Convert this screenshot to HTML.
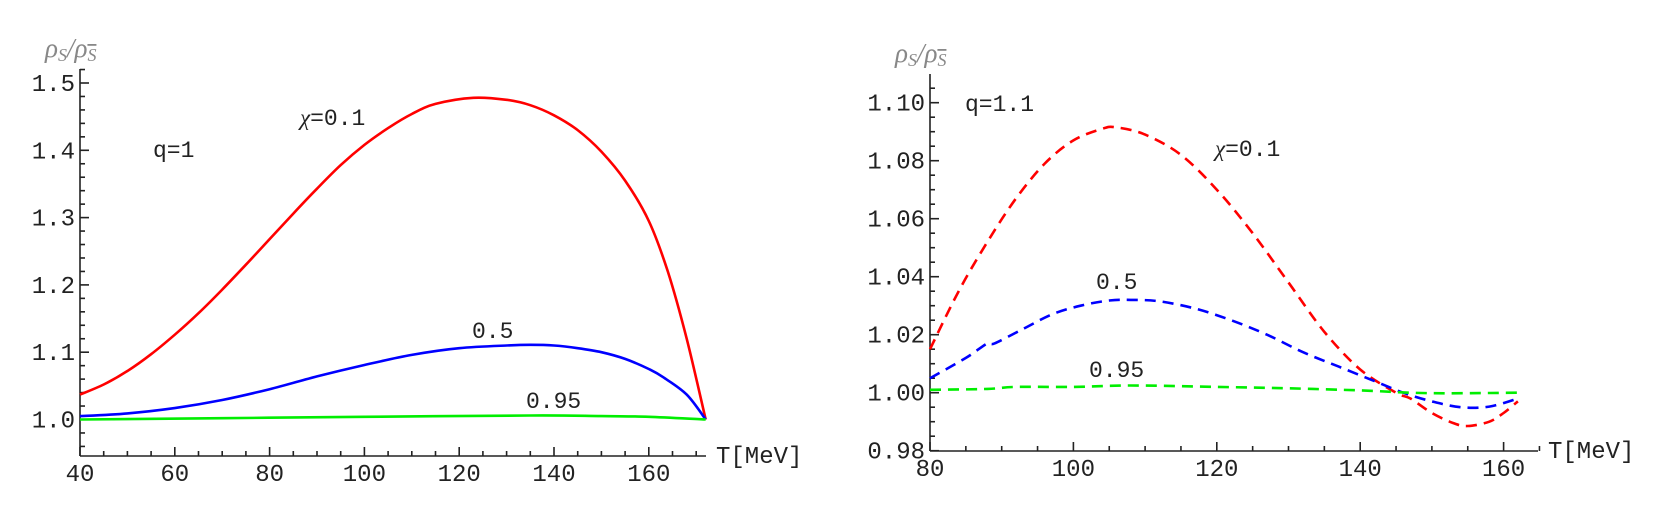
<!DOCTYPE html>
<html><head><meta charset="utf-8"><style>
html,body{margin:0;padding:0;background:#fff;}
svg{display:block;}
text{font-family:"Liberation Mono",monospace;fill:#222;}
</style></head><body>
<svg id="s" width="1674" height="520" xmlns="http://www.w3.org/2000/svg">
<g stroke="#222" stroke-width="1.6" fill="none" id="axes"></g>
<g id="curves" fill="none"></g>
<g font-size="24" id="labels">
<text x="45" y="57" font-size="27" style="fill:#888;font-family:'Liberation Serif',serif;font-style:italic">ρ<tspan font-size="18" dy="4">S</tspan><tspan dy="-4">/ρ</tspan><tspan font-size="18" dy="4" text-decoration="overline">S</tspan></text>
<text x="895" y="62" font-size="27" style="fill:#888;font-family:'Liberation Serif',serif;font-style:italic">ρ<tspan font-size="18" dy="4">S</tspan><tspan dy="-4">/ρ</tspan><tspan font-size="18" dy="4" text-decoration="overline">S</tspan></text>
<text x="300" y="125" font-size="23"><tspan style="font-family:'Liberation Serif',serif;font-style:italic">χ</tspan>=0.1</text>
<text x="153" y="157" font-size="23">q=1</text>
<text x="472" y="338" font-size="23">0.5</text>
<text x="526" y="408" font-size="23">0.95</text>
<text x="716" y="463" font-size="24">T[MeV]</text>
<text x="965" y="111" font-size="23">q=1.1</text>
<text x="1215" y="156" font-size="23"><tspan style="font-family:'Liberation Serif',serif;font-style:italic">χ</tspan>=0.1</text>
<text x="1096" y="289" font-size="23">0.5</text>
<text x="1089" y="377" font-size="23">0.95</text>
<text x="1548" y="458" font-size="24">T[MeV]</text>
</g>
</svg>
<script>
var NS="http://www.w3.org/2000/svg",ax=document.getElementById('axes'),cv=document.getElementById('curves'),lb=document.getElementById('labels');
function el(p,t,a,txt){var e=document.createElementNS(NS,t);for(var k in a)e.setAttribute(k,a[k]);if(txt)e.textContent=txt;p.appendChild(e);return e;}
function LX(t){return 80+(t-40)*4.74;} function LY(v){return 419.5-(v-1)*673;}
el(ax,'line',{x1:80,y1:69,x2:80,y2:456});el(ax,'line',{x1:80,y1:456,x2:706,y2:456});
for(var t=40;t<=170;t+=5){var x=LX(t),M=(t%20==0);el(ax,'line',{x1:x,y1:456,x2:x,y2:M?447:451});if(M)el(lb,'text',{x:x,y:481,'text-anchor':'middle'},String(t));}
for(var i=0;i<=30;i++){var v=0.96+i*0.02,y=LY(v);if(y<68)break;var M=(i%5==2);el(ax,'line',{x1:80,y1:y,x2:M?89:85,y2:y});if(M)el(lb,'text',{x:75,y:y+8,'text-anchor':'end'},v.toFixed(1));}
function pl(pts,X,Y,col,dash){var P=pts.map(function(p){return [X(p[0]),Y(p[1])]});var d='M'+P[0][0].toFixed(1)+','+P[0][1].toFixed(1);
for(var i=0;i<P.length-1;i++){var p0=P[Math.max(0,i-1)],p1=P[i],p2=P[i+1],p3=P[Math.min(P.length-1,i+2)];
var c1=[p1[0]+(p2[0]-p0[0])/6,p1[1]+(p2[1]-p0[1])/6],c2=[p2[0]-(p3[0]-p1[0])/6,p2[1]-(p3[1]-p1[1])/6];
d+=' C'+c1[0].toFixed(1)+','+c1[1].toFixed(1)+' '+c2[0].toFixed(1)+','+c2[1].toFixed(1)+' '+p2[0].toFixed(1)+','+p2[1].toFixed(1);}
var a={d:d,stroke:col,'stroke-width':2.6,'stroke-linejoin':'round'};if(dash)a['stroke-dasharray']=dash;el(cv,'path',a);}
pl([[40,1.037],[45,1.052],[50,1.072],[55,1.097],[60,1.126],[65,1.158],[70,1.193],[75,1.23],[80,1.268],[85,1.306],[90,1.343],[95,1.378],[100,1.408],[105,1.433],[110,1.454],[115,1.469],[123,1.478],[130,1.475],[135,1.467],[140,1.452],[145,1.43],[150,1.398],[155,1.355],[160,1.295],[164,1.22],[168,1.12],[172,1.0]],LX,LY,'#f00');
pl([[40,1.005],[50,1.009],[60,1.017],[70,1.029],[80,1.045],[90,1.064],[100,1.081],[110,1.096],[120,1.106],[130,1.11],[135,1.111],[140,1.11],[145,1.106],[150,1.1],[155,1.09],[160,1.075],[163,1.063],[168,1.037],[172,1.0]],LX,LY,'#00f');
pl([[40,1.0],[70,1.002],[100,1.004],[135,1.006],[150,1.005],[160,1.004],[172,1.0]],LX,LY,'#0e0');
function RX(t){return 930+(t-80)*7.17;} function RY(v){return 392.7-(v-1)*2900;}
el(ax,'line',{x1:930,y1:74,x2:930,y2:451});el(ax,'line',{x1:930,y1:451,x2:1538,y2:451});
for(var t=80;t<=165;t+=5){var x=RX(t),M=(t%20==0);el(ax,'line',{x1:x,y1:451,x2:x,y2:M?442:446});if(M)el(lb,'text',{x:x,y:476,'text-anchor':'middle'},String(t));}
for(var i=0;i<=30;i++){var v=0.98+i*0.005,y=RY(v);if(y<74)break;var M=(i%4==0);el(ax,'line',{x1:930,y1:y,x2:M?939:935,y2:y});if(M)el(lb,'text',{x:925,y:y+8,'text-anchor':'end'},v.toFixed(2));}
pl([[80,1.015],[84,1.035],[88,1.052],[92,1.067],[96,1.079],[100,1.087],[104,1.091],[106,1.0915],[110,1.089],[115,1.082],[120,1.07],[125,1.055],[130,1.038],[135,1.021],[140,1.008],[145,1.0],[147,0.998],[150,0.993],[153,0.9895],[155,0.9885],[158,0.99],[160,0.993],[162,0.997]],RX,RY,'#f00','11,7');
pl([[80,1.005],[85,1.012],[88,1.017],[89,1.017],[93,1.022],[97,1.027],[101,1.03],[105,1.0318],[108,1.032],[112,1.0315],[117,1.029],[122,1.025],[127,1.02],[132,1.014],[137,1.009],[142,1.004],[146,1.0],[150,0.997],[154,0.995],[158,0.9952],[162,0.998]],RX,RY,'#00f','11,7');
pl([[80,1.001],[88,1.0013],[92,1.002],[100,1.002],[108,1.0025],[120,1.002],[130,1.0015],[140,1.0008],[147,1.0],[152,0.9998],[158,0.9999],[162,1.0]],RX,RY,'#0e0','11,7');
</script>
</body></html>
